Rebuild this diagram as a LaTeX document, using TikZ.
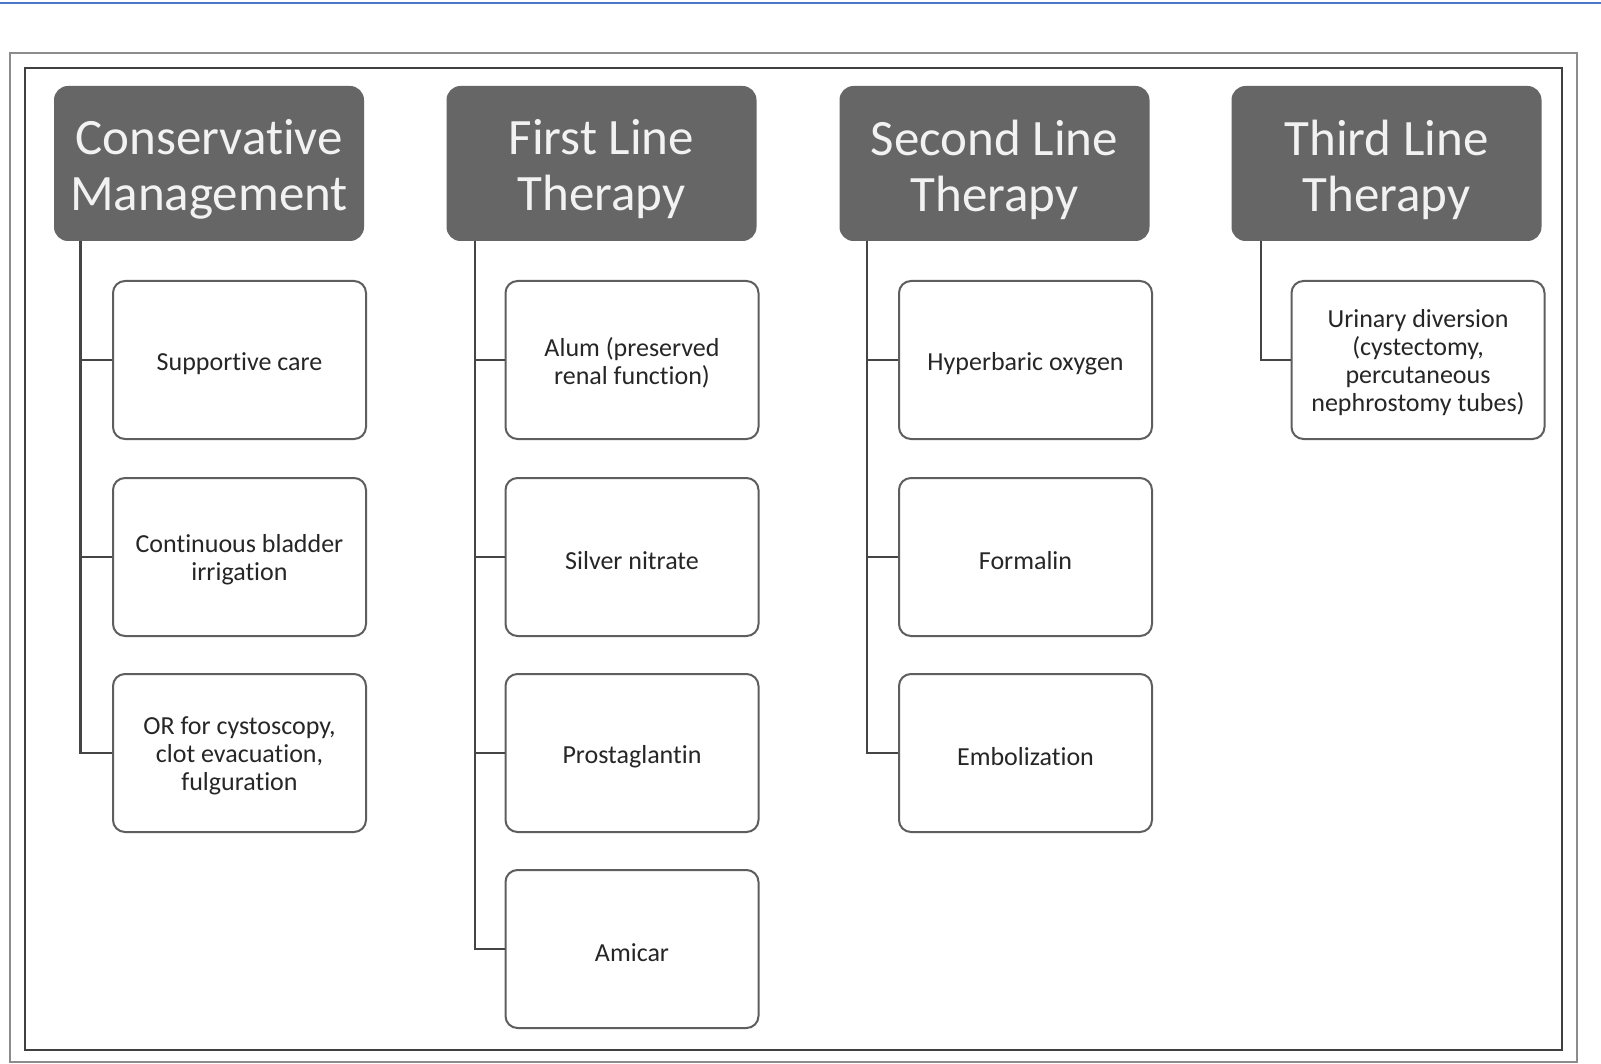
\documentclass[tikz,border=0pt]{standalone}
\usepackage{fontspec}
\setmainfont{Carlito}[Ligatures=NoCommon]
\definecolor{hdrfill}{HTML}{666666}
\definecolor{hdrtext}{HTML}{F2F2F2}
\definecolor{boxline}{HTML}{5E5E5E}
\definecolor{connline}{HTML}{454545}
\definecolor{topblue}{HTML}{4A78C8}
\definecolor{childtext}{HTML}{262626}
\begin{document}
\begin{tikzpicture}[x=0.5pt,y=-0.5pt,
  hdr/.style={draw=none,fill=hdrfill,rounded corners=7pt,minimum width=155pt,minimum height=77.5pt,inner sep=0pt},
  hdrtxt/.style={text=hdrtext,align=center,font=\fontsize{25.5}{28}\selectfont,inner sep=0pt},
  child/.style={draw=boxline,line width=1pt,fill=white,rounded corners=6pt,minimum width=126.5pt,minimum height=79pt,inner sep=0pt},
  childtxt/.style={text=childtext,align=center,font=\fontsize{13}{14}\selectfont,inner sep=0pt},
  conn/.style={draw=connline,line width=1.2pt}]
\useasboundingbox (0,0) rectangle (1601,1064);
\fill[white] (0,0) rectangle (1601,1064);
\draw[topblue,line width=1pt] (0,3) -- (1601,3);
\draw[draw=gray!90,line width=1.3pt] (10,53) rectangle (1577,1062);
\draw[draw=black!75,line width=1.4pt] (25,68) rectangle (1562,1050);

\node[hdr] (h1) at (209,163.5) {};
\node[hdr] (h2) at (601.5,163.5) {};
\node[hdr] (h3) at (994.5,163.5) {};
\node[hdr] (h4) at (1386.5,163.5) {};
\node[hdrtxt] (h1t) at ([yshift=-3pt]h1.center) {Conservative\\Management};
\node[hdrtxt] (h2t) at ([yshift=-3pt]h2.center) {First Line\\Therapy};
\node[hdrtxt] (h3t) at ([yshift=-3pt]h3.center) {Second Line\\Therapy};
\node[hdrtxt] (h4t) at ([yshift=-3pt]h4.center) {Third Line\\Therapy};

\node[child] (c1) at (239.5,360) {};
\node[child] (c2) at (239.5,557) {};
\node[child] (c3) at (239.5,753) {};
\node[child] (f1) at (632,360) {};
\node[child] (f2) at (632,557) {};
\node[child] (f3) at (632,753) {};
\node[child] (f4) at (632,949) {};
\node[child] (s1) at (1025.5,360) {};
\node[child] (s2) at (1025.5,557) {};
\node[child] (s3) at (1025.5,753) {};
\node[child] (t1) at (1418,360) {};

\node[childtxt] (c1t) at ([yshift=-2pt]c1.center) {Supportive care};
\node[childtxt] (c2t) at ([yshift=-1.5pt]c2.center) {Continuous bladder\\irrigation};
\node[childtxt] (c3t) at ([yshift=-1.5pt]c3.center) {OR for cystoscopy,\\clot evacuation,\\fulguration};
\node[childtxt] (f1t) at ([yshift=-1.5pt]f1.center) {Alum (preserved\\renal function)};
\node[childtxt] (f2t) at ([yshift=-2pt]f2.center) {Silver nitrate};
\node[childtxt] (f3t) at ([yshift=-2pt]f3.center) {Prostaglantin};
\node[childtxt] (f4t) at ([yshift=-2pt]f4.center) {Amicar};
\node[childtxt] (s1t) at ([yshift=-2pt]s1.center) {Hyperbaric oxygen};
\node[childtxt] (s2t) at ([yshift=-2pt]s2.center) {Formalin};
\node[childtxt] (s3t) at ([yshift=-2pt]s3.center) {Embolization};
\node[childtxt] (t1t) at ([yshift=-1.5pt]t1.center) {Urinary diversion\\(cystectomy,\\percutaneous\\nephrostomy tubes)};

\coordinate (k1) at ([xshift=13.5pt]h1.south west);
\coordinate (k2) at ([xshift=14.5pt]h2.south west);
\coordinate (k3) at ([xshift=14pt]h3.south west);
\coordinate (k4) at ([xshift=15pt]h4.south west);

\draw[conn] (k1) |- (c3.west);
\draw[conn] (k1 |- c1.west) -- (c1.west);
\draw[conn] (k1 |- c2.west) -- (c2.west);

\draw[conn] (k2) |- (f4.west);
\draw[conn] (k2 |- f1.west) -- (f1.west);
\draw[conn] (k2 |- f2.west) -- (f2.west);
\draw[conn] (k2 |- f3.west) -- (f3.west);

\draw[conn] (k3) |- (s3.west);
\draw[conn] (k3 |- s1.west) -- (s1.west);
\draw[conn] (k3 |- s2.west) -- (s2.west);

\draw[conn] (k4) |- (t1.west);
\end{tikzpicture}
\end{document}
